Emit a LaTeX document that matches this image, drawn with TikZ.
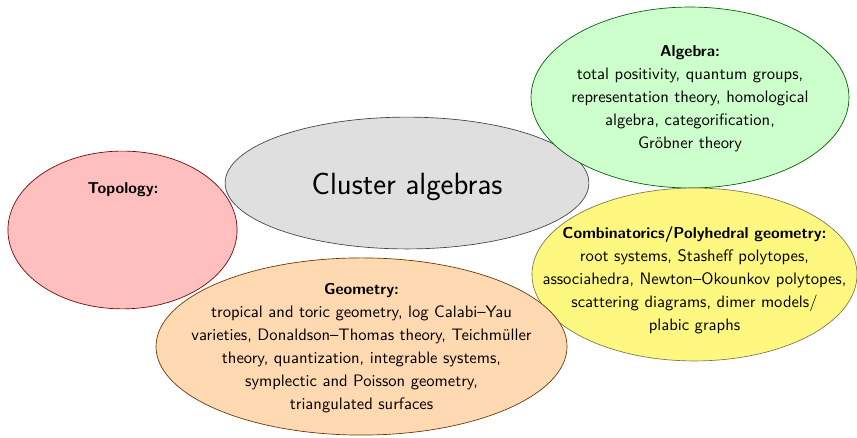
\documentclass[tikz,border=0pt]{standalone}
\usepackage{amsmath}
\usepackage{tikz}
\usetikzlibrary{shapes.geometric}

\newcommand{\headline}[1]{{\fontsize{9.5}{13.8}\bfseries #1}}

\begin{document}
\begin{tikzpicture}[
		every node/.style={font=\sffamily\fontsize{10}{13.8}\selectfont, align=center},
		blob/.style={ellipse, draw, inner sep=0pt}
	]
  \useasboundingbox (0cm, 0cm) rectangle (18.14cm, -9.27cm);
  % the ellipses
  \node (cluster) [blob, fill=gray!25, draw=gray!50!black, minimum width=7.70cm, minimum height=2.79cm] at (8.615cm, -3.874cm) {};
  \node (topology) [blob, fill=red!25, draw=red!45!black, minimum width=4.85cm, minimum height=3.34cm] at (2.593cm, -4.868cm) {};
  \node (algebra) [blob, fill=green!20, draw=green!35!black, minimum width=6.73cm, minimum height=3.83cm] at (14.605cm, -2.064cm) {};
  \node (comb) [blob, fill=yellow!50, draw=yellow!40!black, minimum width=6.88cm, minimum height=3.66cm] at (14.70cm, -5.81cm) {};
  \node (geometry) [blob, fill=orange!30, draw=orange!40!black, minimum width=8.70cm, minimum height=3.75cm] at (7.652cm, -7.334cm) {};
  % the texts
  \node (cluster_label) [font=\sffamily\fontsize{18.5}{22}\selectfont] at (8.615cm, -3.95cm) {Cluster algebras};
  \node (topology_label) at (2.604cm, -4.022cm) {\headline{Topology:}};
  \node (algebra_label) at (14.605cm, -2.085cm) {\headline{Algebra:}\\
    total positivity, quantum groups,\\
    representation theory, homological\\
    algebra, categorification,\\
    Gr\"obner theory};
  \node (comb_label) at (14.70cm, -5.93cm) {\headline{Combinatorics/Polyhedral geometry:}\\
    root systems, Stasheff polytopes,\\
    associahedra, Newton--Okounkov polytopes,\\
    scattering diagrams, dimer models/\\
    plabic graphs};
  \node (geometry_label) at (7.652cm, -7.37cm) {\headline{Geometry:}\\
    tropical and toric geometry, log Calabi--Yau\\
    varieties, Donaldson--Thomas theory, Teichm\"uller\\
    theory, quantization, integrable systems,\\
    symplectic and Poisson geometry,\\
    triangulated surfaces};
\end{tikzpicture}
\end{document}
